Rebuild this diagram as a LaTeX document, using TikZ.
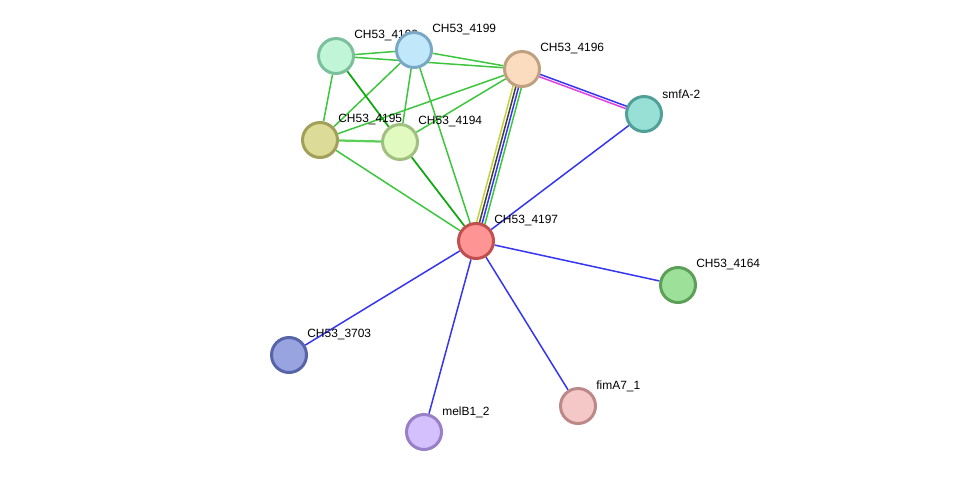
\documentclass[tikz,border=0pt]{standalone}
\usepackage{fontspec}
\setmainfont{Liberation Sans}
\usetikzlibrary{calc,backgrounds}

\definecolor{tmgreen}{HTML}{3DC63D}
\definecolor{dkgreen}{HTML}{10A810}
\definecolor{dbblue}{HTML}{3535F2}
\definecolor{exmag}{HTML}{E040E0}
\definecolor{txyel}{HTML}{C4D238}
\definecolor{coblack}{HTML}{404040}

\begin{document}
\begin{tikzpicture}[
  x=0.02cm,y=-0.02cm,
  prot/.style={circle, line width=0.06cm, minimum size=0.7cm, inner sep=0pt},
  lbl/.style={anchor=west, inner sep=0pt, font=\fontsize{6.8}{8}\selectfont},
  edge/.style={line width=0.03cm, tmgreen},
  dark/.style={line width=0.035cm, dkgreen},
  blue/.style={line width=0.03cm, dbblue}
]
\useasboundingbox (0,0) rectangle (976,477);

% proteins, each followed by its name
\node[prot, fill={rgb,255:red,192;green,245;blue,216}, draw={rgb,255:red,124;green,191;blue,156}] (n4198) at (336,56) {};
\node[lbl] (l4198) at ($(n4198)+(18,-20)$) {CH53\_4198};
\node[prot, fill={rgb,255:red,192;green,232;blue,250}, draw={rgb,255:red,122;green,168;blue,196}] (n4199) at (414,50) {};
\node[lbl] (l4199) at ($(n4199)+(18,-20)$) {CH53\_4199};
\node[prot, fill={rgb,255:red,252;green,220;blue,190}, draw={rgb,255:red,191;green,160;blue,128}] (n4196) at (522,69) {};
\node[lbl] (l4196) at ($(n4196)+(18,-20)$) {CH53\_4196};
\node[prot, fill={rgb,255:red,152;green,224;blue,214}, draw={rgb,255:red,80;green,160;blue,152}] (smfA) at (644,114) {};
\node[lbl] (lsmfA) at ($(smfA)+(18,-20)$) {smfA-2};
\node[prot, fill={rgb,255:red,220;green,220;blue,152}, draw={rgb,255:red,160;green,160;blue,88}] (n4195) at (320,140) {};
\node[lbl] (l4195) at ($(n4195)+(18,-20)$) {CH53\_4195};
\node[prot, fill={rgb,255:red,224;green,250;blue,192}, draw={rgb,255:red,160;green,192;blue,128}] (n4194) at (400,142) {};
\node[lbl] (l4194) at ($(n4194)+(18,-20)$) {CH53\_4194};
\node[prot, fill={rgb,255:red,255;green,148;blue,148}, draw={rgb,255:red,192;green,80;blue,80}] (n4197) at (476,241) {};
\node[lbl] (l4197) at ($(n4197)+(18,-20)$) {CH53\_4197};
\node[prot, fill={rgb,255:red,156;green,224;blue,154}, draw={rgb,255:red,92;green,160;blue,88}] (n4164) at (678,285) {};
\node[lbl] (l4164) at ($(n4164)+(18,-20)$) {CH53\_4164};
\node[prot, fill={rgb,255:red,152;green,164;blue,224}, draw={rgb,255:red,88;green,100;blue,168}] (n3703) at (289,355) {};
\node[lbl] (l3703) at ($(n3703)+(18,-20)$) {CH53\_3703};
\node[prot, fill={rgb,255:red,212;green,192;blue,252}, draw={rgb,255:red,152;green,128;blue,200}] (melB) at (424,432) {};
\node[lbl] (lmelB) at ($(melB)+(18,-20)$) {melB1\_2};
\node[prot, fill={rgb,255:red,245;green,200;blue,200}, draw={rgb,255:red,188;green,136;blue,136}] (fimA) at (578,406) {};
\node[lbl] (lfimA) at ($(fimA)+(18,-20)$) {fimA7\_1};

\begin{scope}[on background layer]
% text-mining links in the cluster
\foreach \a/\b in {n4198/n4199,n4198/n4196,n4198/n4195,n4199/n4196,n4199/n4195,
                   n4199/n4194,n4199/n4197,n4196/n4195,n4196/n4194,n4195/n4197}
  \draw[edge] (\a) -- (\b);
\draw[edge, line width=0.045cm, tmgreen!85] (n4195) -- (n4194);
\draw[dark] (n4198) -- (n4194);
\draw[dark] (n4194) -- (n4197);
% bundle CH53_4196 -- CH53_4197
\draw[edge, txyel] ($(n4196)!0.085cm!-90:(n4197)$) -- ($(n4197)!0.085cm!90:(n4196)$);
\draw[edge, coblack] ($(n4196)!0.028cm!-90:(n4197)$) -- ($(n4197)!0.028cm!90:(n4196)$);
\draw[edge, dbblue] ($(n4196)!0.028cm!90:(n4197)$) -- ($(n4197)!0.028cm!-90:(n4196)$);
\draw[edge] ($(n4196)!0.085cm!90:(n4197)$) -- ($(n4197)!0.085cm!-90:(n4196)$);
% CH53_4196 -- smfA-2
\draw[blue] ($(n4196)!0.025cm!90:(smfA)$) -- ($(smfA)!0.025cm!-90:(n4196)$);
\draw[edge, exmag] ($(n4196)!0.025cm!-90:(smfA)$) -- ($(smfA)!0.025cm!90:(n4196)$);
% database links from the hub
\foreach \x in {smfA,n4164,n3703,melB,fimA}
  \draw[blue] (n4197) -- (\x);
\end{scope}
\end{tikzpicture}
\end{document}
